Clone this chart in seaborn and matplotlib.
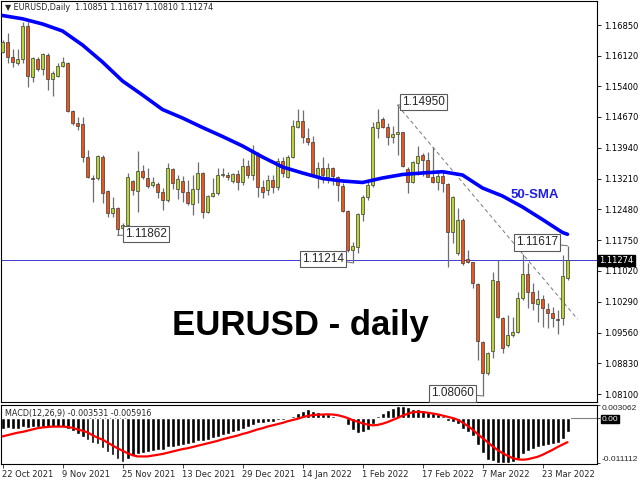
import numpy as np
import pandas as pd
import matplotlib.pyplot as plt
import matplotlib.transforms as mtransforms
import seaborn as sns

# EURUSD daily candles, 22 Oct 2021 .. 30 Mar 2022 (bar index 0..113)
opens = [1.16217, 1.16440, 1.16099, 1.15960, 1.16037, 1.16826, 1.15610, 1.16037, 1.15800, 1.16139,
         1.15563, 1.15641, 1.15885, 1.15957, 1.14812, 1.14520, 1.14497, 1.13715, 1.13230, 1.13217,
         1.13729, 1.12923, 1.12402, 1.12506, 1.12031, 1.12110, 1.13150, 1.12923, 1.13397, 1.13217,
         1.13050, 1.13082, 1.12885, 1.12703, 1.13430, 1.12956, 1.13153, 1.12900, 1.12608, 1.12956,
         1.13335, 1.12425, 1.12800, 1.12861, 1.13295, 1.13303, 1.13160, 1.13320, 1.13137, 1.13516,
         1.13295, 1.13769, 1.13004, 1.12940, 1.13177, 1.13010, 1.13627, 1.13256, 1.13715, 1.14440,
         1.14575, 1.14165, 1.14085, 1.13271, 1.13454, 1.13255, 1.13454, 1.13255, 1.13035, 1.12449,
         1.11518, 1.11590, 1.12371, 1.12781, 1.13058, 1.14417, 1.14615, 1.14440, 1.14189, 1.14259,
         1.14307, 1.13430, 1.13130, 1.13587, 1.13769, 1.13651, 1.13240, 1.13129, 1.13271, 1.13074,
         1.11951, 1.11440, 1.12229, 1.11297, 1.11226, 1.10712, 1.09345, 1.08595, 1.09124, 1.10783,
         1.09899, 1.09266, 1.09503, 1.09566, 1.10373, 1.10949, 1.10530, 1.10238, 1.10357, 1.10112,
         1.10032, 1.09890, 1.09899, 1.10851]
highs = [1.16495, 1.16668, 1.16274, 1.16274, 1.16928, 1.16920, 1.16099, 1.16099, 1.16194, 1.16194,
         1.15760, 1.15942, 1.16099, 1.15980, 1.14836, 1.14662, 1.14677, 1.13888, 1.13300, 1.13769,
         1.13769, 1.12940, 1.12781, 1.12545, 1.12150, 1.13335, 1.13180, 1.13871, 1.13532, 1.13454,
         1.13255, 1.13137, 1.12980, 1.13587, 1.13454, 1.13295, 1.13272, 1.13177, 1.13295, 1.13610,
         1.13374, 1.12821, 1.13216, 1.13454, 1.13454, 1.13366, 1.13350, 1.13414, 1.13690, 1.13650,
         1.14006, 1.13848, 1.13177, 1.13295, 1.13295, 1.13698, 1.13722, 1.13769, 1.14599, 1.14852,
         1.14836, 1.14401, 1.14220, 1.13610, 1.13730, 1.13587, 1.13493, 1.13271, 1.13098, 1.12466,
         1.11715, 1.12387, 1.12821, 1.13137, 1.14559, 1.14852, 1.14662, 1.14520, 1.14456, 1.14950,
         1.14322, 1.13493, 1.13634, 1.13982, 1.13808, 1.13848, 1.13951, 1.13374, 1.13414, 1.13098,
         1.12797, 1.12505, 1.12268, 1.11518, 1.11241, 1.10728, 1.09369, 1.09108, 1.11004, 1.11281,
         1.09937, 1.09977, 1.09937, 1.10530, 1.11423, 1.11202, 1.10728, 1.10570, 1.10451, 1.10254,
         1.10175, 1.10096, 1.11399, 1.11617]
lows = [1.16194, 1.15942, 1.15862, 1.15902, 1.15942, 1.15388, 1.15506, 1.15767, 1.15665, 1.15310,
        1.15167, 1.15625, 1.15862, 1.14795, 1.14480, 1.14362, 1.13610, 1.13217, 1.12660, 1.13177,
        1.12639, 1.12292, 1.12307, 1.11862, 1.11992, 1.12087, 1.12821, 1.12425, 1.13200, 1.12980,
        1.13018, 1.12743, 1.12466, 1.12663, 1.12956, 1.12719, 1.12663, 1.12584, 1.12347, 1.12624,
        1.12268, 1.12402, 1.12780, 1.12821, 1.13255, 1.13177, 1.13098, 1.12940, 1.13058, 1.13216,
        1.13177, 1.12781, 1.12742, 1.12821, 1.12860, 1.12940, 1.13248, 1.13217, 1.13690, 1.14401,
        1.14046, 1.14006, 1.13240, 1.12980, 1.13098, 1.13098, 1.13058, 1.12687, 1.12425, 1.11478,
        1.11214, 1.11447, 1.12213, 1.12703, 1.13018, 1.14165, 1.14401, 1.14006, 1.14046, 1.13769,
        1.13477, 1.12861, 1.13098, 1.13295, 1.13271, 1.13240, 1.13098, 1.12940, 1.12900, 1.11123,
        1.11676, 1.11399, 1.11162, 1.11202, 1.10610, 1.08911, 1.08060, 1.08555, 1.08950, 1.09899,
        1.09069, 1.09227, 1.09463, 1.09550, 1.10333, 1.10136, 1.10096, 1.09819, 1.09700, 1.09661,
        1.09700, 1.09527, 1.09740, 1.10810]
closes = [1.16454, 1.16099, 1.15980, 1.16040, 1.16826, 1.15641, 1.16061, 1.15800, 1.16156, 1.15563,
          1.15705, 1.15885, 1.15966, 1.14819, 1.14520, 1.14463, 1.13715, 1.13240, 1.13210, 1.13745,
          1.12862, 1.12402, 1.12506, 1.12015, 1.12110, 1.13240, 1.12940, 1.13397, 1.13240, 1.13042,
          1.13122, 1.12885, 1.12703, 1.13454, 1.13098, 1.13193, 1.12885, 1.12624, 1.12956, 1.13335,
          1.12425, 1.12797, 1.12876, 1.13295, 1.13326, 1.13240, 1.13311, 1.13137, 1.13516, 1.13295,
          1.13848, 1.13004, 1.12900, 1.13177, 1.13010, 1.13627, 1.13350, 1.13715, 1.14456, 1.14575,
          1.14189, 1.14085, 1.13271, 1.13454, 1.13295, 1.13454, 1.13271, 1.13058, 1.12449, 1.11518,
          1.11612, 1.12371, 1.12781, 1.13058, 1.14425, 1.14544, 1.14440, 1.14203, 1.14259, 1.14307,
          1.13509, 1.13130, 1.13610, 1.13745, 1.13651, 1.13255, 1.13129, 1.13271, 1.13098, 1.11951,
          1.12766, 1.12229, 1.11202, 1.11226, 1.10728, 1.09368, 1.08595, 1.09084, 1.10807, 1.09922,
          1.09188, 1.09503, 1.09566, 1.10373, 1.10949, 1.10530, 1.10254, 1.10357, 1.10136, 1.10032,
          1.09899, 1.09870, 1.10909, 1.11274]

# 50-SMA every 4 bars
sma_bars = [0, 4, 8, 12, 16, 20, 24, 28, 32, 36, 40, 44, 48, 52, 56, 60, 64, 68, 72, 76,
            80, 84, 88, 92, 96, 100, 104, 108, 112, 113]
sma_vals = [1.17075, 1.16997, 1.16874, 1.16708, 1.16376, 1.15973, 1.15523, 1.15191, 1.14847, 1.14646,
            1.14421, 1.14208, 1.13983, 1.13722, 1.13485, 1.13343, 1.13212, 1.13153, 1.13118, 1.13224,
            1.13307, 1.13343, 1.13373, 1.13295, 1.12987, 1.12797, 1.12537, 1.12240, 1.11932, 1.11890]

# MACD(12,26,9) main (histogram) and signal, per bar
macd_main = [-0.0026, -0.0025, -0.0026, -0.0027, -0.0022, -0.0024, -0.0023, -0.0023, -0.0021, -0.0022,
             -0.0023, -0.0022, -0.0021, -0.0028, -0.0033, -0.0038, -0.0046, -0.0054, -0.0061, -0.0064,
             -0.0073, -0.0083, -0.0090, -0.0100, -0.0108, -0.0100, -0.0093, -0.0089, -0.0086, -0.0084,
             -0.0081, -0.0079, -0.0078, -0.0072, -0.0070, -0.0068, -0.0066, -0.0064, -0.0061, -0.0057,
             -0.0057, -0.0053, -0.0050, -0.0046, -0.0042, -0.0038, -0.0035, -0.0031, -0.0026, -0.0023,
             -0.0016, -0.0013, -0.0012, -0.0010, -0.0009, -0.0006, -0.0005, -0.0002, 0.0004, 0.0012,
             0.0018, 0.0022, 0.0017, 0.0014, 0.0011, 0.0009, 0.0006, 0.0003, -0.0003, -0.0018,
             -0.0030, -0.0037, -0.0035, -0.0030, -0.0015, 0.0004, 0.0013, 0.0019, 0.0025, 0.0029,
             0.0030, 0.0027, 0.0023, 0.0021, 0.0019, 0.0016, 0.0012, 0.0009, 0.0005, -0.0007,
             -0.0011, -0.0015, -0.0026, -0.0034, -0.0045, -0.0065, -0.0086, -0.0102, -0.0104, -0.0109,
             -0.0111, -0.0110, -0.0108, -0.0100, -0.0089, -0.0081, -0.0076, -0.0072, -0.0069, -0.0066,
             -0.0064, -0.0061, -0.0051, -0.003531]
macd_signal = [-0.0045, -0.0042, -0.0039, -0.0036, -0.0034, -0.0031, -0.0028, -0.0025, -0.0023, -0.0022,
               -0.0021, -0.0021, -0.0021, -0.0022, -0.0024, -0.0028, -0.0031, -0.0035, -0.0042, -0.0048,
               -0.0053, -0.0060, -0.0067, -0.0074, -0.0080, -0.0086, -0.0091, -0.0094, -0.0094, -0.0094,
               -0.0092, -0.0090, -0.0088, -0.0085, -0.0082, -0.0079, -0.0076, -0.0074, -0.0071, -0.0068,
               -0.0065, -0.0062, -0.0059, -0.0056, -0.0052, -0.0049, -0.0046, -0.0043, -0.0039, -0.0036,
               -0.0032, -0.0028, -0.0025, -0.0021, -0.0018, -0.0015, -0.0012, -0.0008, -0.0005, -0.0002,
               0.0002, 0.0005, 0.0007, 0.0008, 0.00085, 0.0009, 0.00085, 0.0007, 0.0004, 0.0000,
               -0.0005, -0.0009, -0.0013, -0.0016, -0.0018, -0.0017, -0.0014, -0.0010, -0.0005, 0.0000,
               0.0006, 0.0010, 0.0014, 0.0015, 0.00145, 0.0013, 0.0011, 0.0009, 0.0006, 0.0003,
               0.0000, -0.0004, -0.0011, -0.0019, -0.0028, -0.0039, -0.0049, -0.0059, -0.0069, -0.0078,
               -0.0086, -0.0092, -0.0098, -0.0101, -0.0102, -0.0101, -0.0098, -0.0095, -0.0090, -0.0084,
               -0.0078, -0.0071, -0.0065, -0.005916]

date_bars = [0, 12, 24, 36, 48, 60, 72, 84, 96, 108]
date_labels = ['22 Oct 2021', '9 Nov 2021', '25 Nov 2021', '13 Dec 2021', '29 Dec 2021',
               '14 Jan 2022', '1 Feb 2022', '17 Feb 2022', '7 Mar 2022', '23 Mar 2022']
price_ticks = [1.16850, 1.16120, 1.15400, 1.14670, 1.13940, 1.13210, 1.12480,
               1.11750, 1.11020, 1.10290, 1.09560, 1.08830, 1.08100]
macd_ticks = [0.003062, 0.0, -0.011112]

# labelled extremes: (bar, price, dx pt, dy pt)
marks = [(23, 1.11862, 20.5, 1), (70, 1.11214, -21, 3), (79, 1.14950, 19, 2.3),
         (113, 1.11617, -22, 2.4), (96, 1.08060, -21.6, 1.8)]
trend_x = [79, 115]
trend_y = [1.14950, 1.09880]

sns.set_theme(style='white')
plt.rcParams['font.family'] = ['DejaVu Sans']

df = pd.DataFrame({'o': opens, 'h': highs, 'l': lows, 'c': closes})
df['bar'] = np.arange(len(df))
bull = df['c'] >= df['o']
body_lo = df[['o', 'c']].min(axis=1)
body_h = (df['c'] - df['o']).abs().clip(lower=0.00015)

fig = plt.figure(figsize=(6.4, 4.8), dpi=100)
ax = fig.add_axes([1 / 640, 1 - 402 / 480, 596 / 640, 401 / 480])
ax2 = fig.add_axes([1 / 640, 1 - 464 / 480, 596 / 640, 59 / 480])

# candles
ax.vlines(df['bar'], df['l'], df['h'], color='#6e6e6e', lw=0.9, zorder=2)
ax.bar(df['bar'], body_h, bottom=body_lo, width=0.74,
       color=np.where(bull, '#b9d334', '#e8581d'), edgecolor='#3a3a3a', linewidth=0.5, zorder=3)

sns.lineplot(x=sma_bars, y=sma_vals, ax=ax, color='#0000ff', lw=2.6, zorder=4)
ax.plot(trend_x, trend_y, color='#7a7a7a', lw=0.7, dashes=(4, 3), zorder=1)
ax.axhline(closes[-1], color='#3b3bd0', lw=0.7, zorder=1)

for b, p, dx, dy in marks:
    ax.annotate(f'{p:.5f}', xy=(b, p), xytext=(dx, dy), textcoords='offset points',
                ha='center', va='center', fontsize=8.5, family='Liberation Sans', zorder=6,
                bbox=dict(boxstyle='square,pad=0.18', fc='white', ec='#5a5a5a', lw=0.8),
                arrowprops=dict(arrowstyle='-', color='#7a7a7a', lw=0.8, shrinkA=0, shrinkB=0))

ax.text(0.503, 0.167, 'EURUSD - daily', transform=ax.transAxes, ha='center', va='baseline',
        fontsize=25, fontweight='bold', family='Liberation Sans', color='black')
ax.text(106.5, 1.12821, '50-SMA', ha='center', va='center', fontsize=9.5,
        fontweight='bold', family='Liberation Sans', color='#1e1ee6')
ax.text(0.006, 0.996, f'\u25bc EURUSD,Daily  {opens[-1]:.5f} {highs[-1]:.5f} {lows[-1]:.5f} {closes[-1]:.5f}',
        transform=ax.transAxes, ha='left', va='top', fontsize=5.8)

ax.set_xlim(-0.3, 118.9)
ax.set_ylim(1.079151, 1.174188)
ax.set_xticks([])
ax.yaxis.tick_right()
ax.set_yticks(price_ticks)
ax.set_yticklabels([f'{v:.5f}' for v in price_ticks])
ax.tick_params(axis='y', length=3, width=0.6, labelsize=6, pad=2, colors='black')
ax.set_xlabel('')
ax.set_ylabel('')

tr = mtransforms.blended_transform_factory(ax.transAxes, ax.transData)
ax.text(1.004, closes[-1], f'{closes[-1]:.5f}', transform=tr, ha='left', va='center',
        fontsize=6, color='white', bbox=dict(boxstyle='square,pad=0.15', fc='black', ec='black'))

# MACD panel
sns.barplot(x=df['bar'], y=macd_main, ax=ax2, native_scale=True, color='black',
            width=0.8, errorbar=None, saturation=1, zorder=2)
sns.lineplot(x=df['bar'], y=macd_signal, ax=ax2, color='#ff0000', lw=1.6, zorder=3)
ax2.axhline(0, color='#808080', lw=0.8, zorder=1)
ax2.text(0.006, 0.93, f'MACD(12,26,9) {macd_main[-1]:.6f} {macd_signal[-1]:.6f}',
         transform=ax2.transAxes, ha='left', va='top', fontsize=5.8)
ax2.set_xlim(-0.3, 118.9)
ax2.set_ylim(-0.01125, 0.00318)
ax2.yaxis.tick_right()
ax2.set_yticks(macd_ticks)
ax2.set_yticklabels(['0.003062', '0.00', '-0.011112'], family='Liberation Sans', fontsize=6)
ax2.tick_params(axis='y', length=2, width=0.6, pad=1.2)
ylabs = ax2.get_yticklabels()
ylabs[0].set_va('top')
ylabs[2].set_va('bottom')
ylabs[1].set_color('white')
ylabs[1].set_bbox(dict(boxstyle='square,pad=0.1', fc='black', ec='black'))
ax2.set_xticks(date_bars)
ax2.set_xticklabels(date_labels, ha='left')
ax2.tick_params(axis='x', length=3, width=0.6, labelsize=6, pad=1.5, bottom=True)
ax2.set_xlabel('')
ax2.set_ylabel('')

for a in (ax, ax2):
    for s in a.spines.values():
        s.set_color('black')
        s.set_linewidth(0.8)

fig.savefig('out.png', dpi=100)
